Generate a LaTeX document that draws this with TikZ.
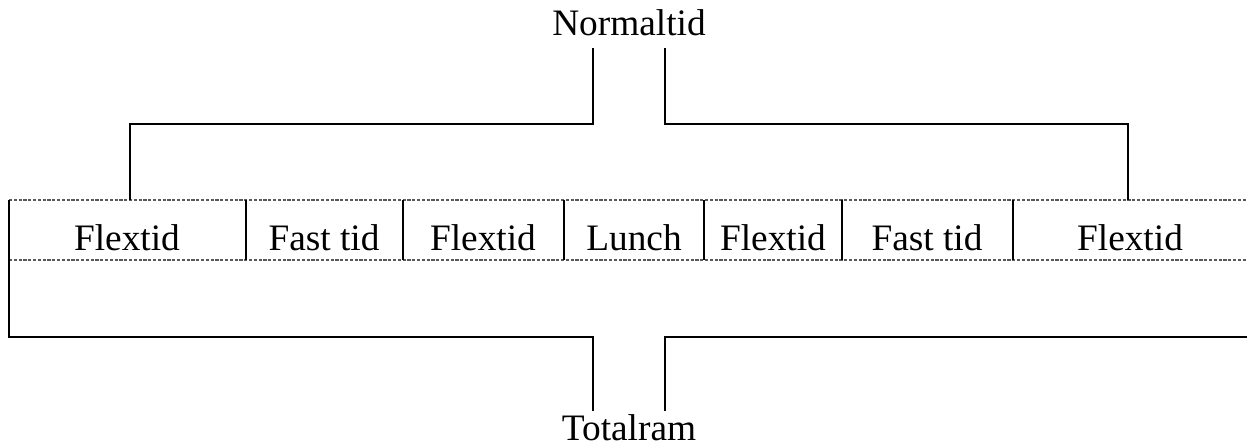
\documentclass[tikz,border=0pt]{standalone}
\usepackage{fontspec}
\setmainfont{Liberation Serif}
\begin{document}
\begin{tikzpicture}[x=0.75pt,y=-0.75pt,
  solidline/.style={line width=1.5pt,black},
  dashline/.style={line width=0.8pt,gray!70!black,dash pattern=on 2.4pt off 1.2pt},
  lbl/.style={anchor=base,inner sep=0pt,font=\fontsize{28}{32}\selectfont}]
\useasboundingbox (0,0) rectangle (1247,448);
% labels
\node[lbl] (normal) at (629,36) {Normaltid};
\node[lbl] (total) at (629,441) {Totalram};
\node[lbl] (c1) at (127,251) {Flextid};
\node[lbl] (c2) at (324,251) {Fast tid};
\node[lbl] (c3) at (483,251) {Flextid};
\node[lbl] (c4) at (634,251) {Lunch};
\node[lbl] (c5) at (773,251) {Flextid};
\node[lbl] (c6) at (927,251) {Fast tid};
\node[lbl] (c7) at (1130,251) {Flextid};
% coordinates
\coordinate (tl) at (9,200);
\coordinate (tr) at (1247,200);
\coordinate (ml) at (9,260);
\coordinate (mr) at (1247,260);
\coordinate (bl) at (9,337);
\coordinate (br) at (1247,337);
% dashed lines
\draw[dashline] (tl) -- (tr);
\draw[dashline] (ml) -- (mr);
% left edge and bottom bracket
\draw[solidline] (tl) -- (bl) -- (593,337) -- (593,411);
\draw[solidline] (665,411) -- (665,337) -- (br);
% top bracket
\draw[solidline] (593,48) -- (593,124) -- (130,124) -- (130,200);
\draw[solidline] (665,48) -- (665,124) -- (1128,124) -- (1128,200);
% dividers
\foreach \x in {246,403,564,704,842,1013}
  \draw[solidline] (\x,200) -- (\x,260);
\end{tikzpicture}
\end{document}
